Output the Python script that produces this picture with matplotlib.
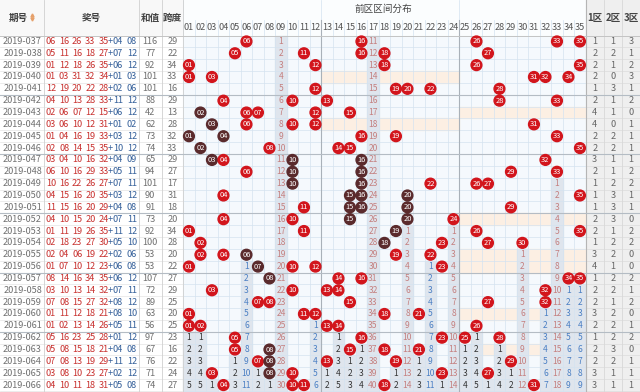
import numpy as np
import matplotlib.pyplot as plt
from matplotlib.patches import Rectangle, Circle

plt.rcParams['font.family'] = ['Noto Sans CJK SC', 'DejaVu Sans']

# ---- data ----
issues = ['2019-037', '2019-038', '2019-039', '2019-040', '2019-041',
          '2019-042', '2019-043', '2019-044', '2019-045', '2019-046',
          '2019-047', '2019-048', '2019-049', '2019-050', '2019-051',
          '2019-052', '2019-053', '2019-054', '2019-055', '2019-056',
          '2019-057', '2019-058', '2019-059', '2019-060', '2019-061',
          '2019-062', '2019-063', '2019-064', '2019-065', '2019-066']
front = [[6, 16, 26, 33, 35], [5, 11, 16, 18, 27], [1, 12, 18, 26, 35], [1, 3, 31, 32, 34], [12, 19, 20, 22, 28],
         [4, 10, 13, 28, 33], [2, 6, 7, 12, 15], [3, 6, 10, 12, 31], [1, 4, 16, 19, 33], [2, 8, 14, 15, 35],
         [3, 4, 10, 16, 32], [6, 10, 16, 29, 33], [10, 16, 22, 26, 27], [4, 15, 16, 20, 35], [11, 15, 16, 20, 29],
         [4, 10, 15, 20, 24], [1, 11, 19, 26, 35], [2, 18, 23, 27, 30], [2, 4, 6, 19, 22], [1, 7, 10, 12, 23],
         [8, 14, 16, 34, 35], [3, 10, 13, 14, 32], [7, 8, 15, 27, 32], [1, 11, 12, 18, 21], [1, 2, 13, 14, 26],
         [5, 16, 23, 25, 28], [5, 8, 15, 18, 21], [7, 8, 13, 19, 29], [3, 8, 10, 23, 27], [4, 10, 11, 18, 31]]
back = [[4, 8], [7, 12], [6, 12], [1, 3], [2, 6],
        [11, 12], [6, 12], [1, 2], [3, 12], [10, 12],
        [4, 9], [5, 11], [7, 11], [3, 12], [4, 8],
        [7, 11], [11, 12], [5, 10], [2, 6], [6, 8],
        [6, 12], [7, 11], [8, 12], [8, 10], [5, 11],
        [1, 12], [4, 8], [11, 12], [2, 12], [5, 8]]
sums = [116, 77, 92, 101, 101, 88, 42, 62, 73, 74, 65, 94, 101, 90, 91,
        73, 92, 100, 53, 53, 107, 72, 89, 63, 56, 97, 67, 76, 71, 74]
spans = [29, 22, 34, 33, 16, 29, 13, 28, 32, 33, 29, 27, 17, 31, 18,
         20, 34, 28, 20, 22, 27, 29, 25, 20, 25, 23, 16, 22, 24, 27]
zone1 = [1, 2, 2, 2, 1, 2, 4, 4, 2, 2, 3, 2, 1, 1, 1, 2, 2, 1, 3, 4, 1, 2, 2, 3, 2, 1, 2, 2, 3, 3]
zone2 = [1, 2, 1, 0, 3, 1, 1, 0, 2, 2, 1, 1, 2, 3, 3, 3, 1, 2, 2, 1, 2, 2, 1, 2, 2, 2, 3, 2, 1, 1]
zone3 = [3, 1, 2, 3, 1, 2, 0, 1, 1, 1, 1, 2, 2, 1, 1, 0, 2, 2, 0, 0, 2, 1, 2, 0, 1, 2, 0, 1, 1, 1]
# balls drawn in dark colour (linked patterns)
dark_balls = [('2019-043', 2), ('2019-044', 3), ('2019-045', 1), ('2019-045', 4), ('2019-046', 2),
              ('2019-047', 3), ('2019-047', 10), ('2019-047', 16), ('2019-048', 10), ('2019-048', 16),
              ('2019-049', 10), ('2019-049', 16), ('2019-050', 15), ('2019-050', 16), ('2019-050', 20),
              ('2019-051', 15), ('2019-051', 16), ('2019-051', 20), ('2019-052', 15), ('2019-052', 20),
              ('2019-053', 19), ('2019-054', 18), ('2019-055', 6), ('2019-056', 7), ('2019-057', 8),
              ('2019-063', 8), ('2019-064', 8), ('2019-065', 8)]
# misses before the first row for numbers that never hit in this table
prior_miss = {9: 0, 17: 10}

# ---- layout (pixels) ----
W, H = 640, 392
Y0, RH = 35.5, 11.85
X0, CW = 183.2, 11.5
XG1 = X0 + 35 * CW
ZW = (W - XG1) / 3
left_edges = [0, 44, 139, 161.5, X0]
n = len(issues)


def yc(i):
    return Y0 + RH * (i + 0.5)


def xc(num):
    return X0 + CW * (num - 0.5)


fig = plt.figure(figsize=(6.4, 3.92), dpi=100)
ax = fig.add_axes([0, 0, 1, 1])
ax.set_xlim(0, W)
ax.set_ylim(H, 0)
ax.axis('off')

fs = 6.6
# backgrounds
ax.add_patch(Rectangle((0, 0), W, Y0, color='#f8f8f8', zorder=0))
ax.add_patch(Rectangle((X0, 0), XG1 - X0, Y0, color='#fbfdfe', zorder=0))
ax.add_patch(Rectangle((0, Y0), X0, H - Y0, color='white', zorder=0))
ax.add_patch(Rectangle((X0, Y0), XG1 - X0, H - Y0, color='#f5f9fd', zorder=0))
ax.add_patch(Rectangle((XG1, 0), W - XG1, H, color='#efefef', zorder=0))

# empty-zone rows shaded
for i in range(n):
    for z, cnt in enumerate([zone1[i], zone2[i], zone3[i]]):
        if cnt == 0:
            ax.add_patch(Rectangle((X0 + 12 * z * CW, Y0 + RH * i), (11 if z == 2 else 12) * CW, RH,
                                   color='#fcefe3', zorder=1))

# trailing miss strips
hits = [set(f) for f in front]
for num in range(1, 36):
    rows = [i for i in range(n) if num in hits[i]]
    last = rows[-1] if rows else -1
    if last == n - 1:
        continue
    start = last + 1
    base = prior_miss.get(num, 0) if last < 0 else 0
    final = base + n - last - 1 if last >= 0 else base + n
    ax.add_patch(Rectangle((X0 + CW * (num - 1), Y0 + RH * start), CW, RH * (n - start),
                           color='#dfe5ed', zorder=1))
    if final <= 5:
        tc = '#333333'
    elif final <= 11:
        tc = '#4a7fc4'
    else:
        tc = '#c47f7f'
    for i in range(start, n):
        val = (i - last) if last >= 0 else base + i + 1
        ax.text(xc(num), yc(i), str(val), ha='center', va='center', fontsize=6.1, color=tc, zorder=4)

# grid lines
for k in range(36):
    ax.plot([X0 + k * CW] * 2, [20 if k % 12 else 0, H], color='#d4e3f0', lw=0.5, zorder=2)
for i in range(n + 1):
    ax.plot([X0, XG1], [Y0 + RH * i] * 2, color='#d4e3f0', lw=0.5, zorder=2)
    ax.plot([0, X0], [Y0 + RH * i] * 2, color='#e4e4e4', lw=0.5, zorder=2)
    ax.plot([XG1, W], [Y0 + RH * i] * 2, color='#dcdcdc', lw=0.5, zorder=2)
for x in left_edges[1:]:
    ax.plot([x, x], [0, H], color='#d0d0d0', lw=0.6, zorder=2)
for k in range(1, 3):
    ax.plot([XG1 + k * ZW] * 2, [0, H], color='#d8d8d8', lw=0.6, zorder=2)
for k in (12, 24):
    ax.plot([X0 + k * CW] * 2, [20, H], color='#a9b1b9', lw=0.8, zorder=3)
ax.plot([XG1, XG1], [0, H], color='#b5b5b5', lw=0.8, zorder=3)
ax.plot([0, W], [Y0, Y0], color='#c4c4c4', lw=0.7, zorder=3)
for g in range(5, n, 5):
    ax.plot([0, W], [Y0 + RH * g] * 2, color='#b4bcc4', lw=0.8, zorder=3)

# header text
hc = '#444444'
hfs = 6.9
ax.text(18, 17.5, '期号', ha='center', va='center', fontsize=hfs, color=hc, weight='bold')
ax.plot([32], [15.2], marker='^', ms=2.2, color='#e6a06a', zorder=5)
ax.plot([32], [19.2], marker='v', ms=2.2, color='#e6a06a', zorder=5)
ax.text(91.5, 17.5, '奖号', ha='center', va='center', fontsize=hfs, color=hc, weight='bold')
ax.text(150.2, 17.5, '和值', ha='center', va='center', fontsize=hfs, color=hc, weight='bold')
ax.text(172.3, 17.5, '跨度', ha='center', va='center', fontsize=hfs, color=hc, weight='bold')
ax.text(383, 9, '前区区间分布', ha='center', va='center', fontsize=hfs, color=hc)
for num in range(1, 36):
    ax.text(xc(num), 27.5, '%02d' % num, ha='center', va='center', fontsize=6.6, color='#555555')
for z, lab in enumerate(['1区', '2区', '3区']):
    ax.text(XG1 + ZW * (z + 0.5), 17.5, lab, ha='center', va='center', fontsize=hfs, color=hc, weight='bold')

# rows
dark = set(dark_balls)
for i in range(n):
    y = yc(i)
    ax.text(22.5, y, issues[i], ha='center', va='center', fontsize=fs, color='#707070')
    for k, v in enumerate(front[i]):
        ax.text(51 + 13.1 * k, y, '%02d' % v, ha='center', va='center', fontsize=fs, color='#c8312f')
    ax.text(110.5, y, '+', ha='center', va='center', fontsize=fs, color='#35609a')
    for k, v in enumerate(back[i]):
        ax.text(118 + 14 * k, y, '%02d' % v, ha='center', va='center', fontsize=fs, color='#35609a')
    ax.text(150.2, y, str(sums[i]), ha='center', va='center', fontsize=fs, color='#707070')
    ax.text(172.3, y, str(spans[i]), ha='center', va='center', fontsize=fs, color='#707070')
    for z, cnt in enumerate([zone1[i], zone2[i], zone3[i]]):
        ax.text(XG1 + ZW * (z + 0.5), y, str(cnt), ha='center', va='center', fontsize=fs, color='#666666')
    for num in front[i]:
        col = '#5a2a2c' if (issues[i], num) in dark else '#d2151c'
        ax.add_patch(Circle((xc(num), y), 5.4, color=col, zorder=5))
        ax.text(xc(num), y, '%02d' % num, ha='center', va='center', fontsize=5.4, color='white', zorder=6)

fig.savefig('out.png', dpi=100)
